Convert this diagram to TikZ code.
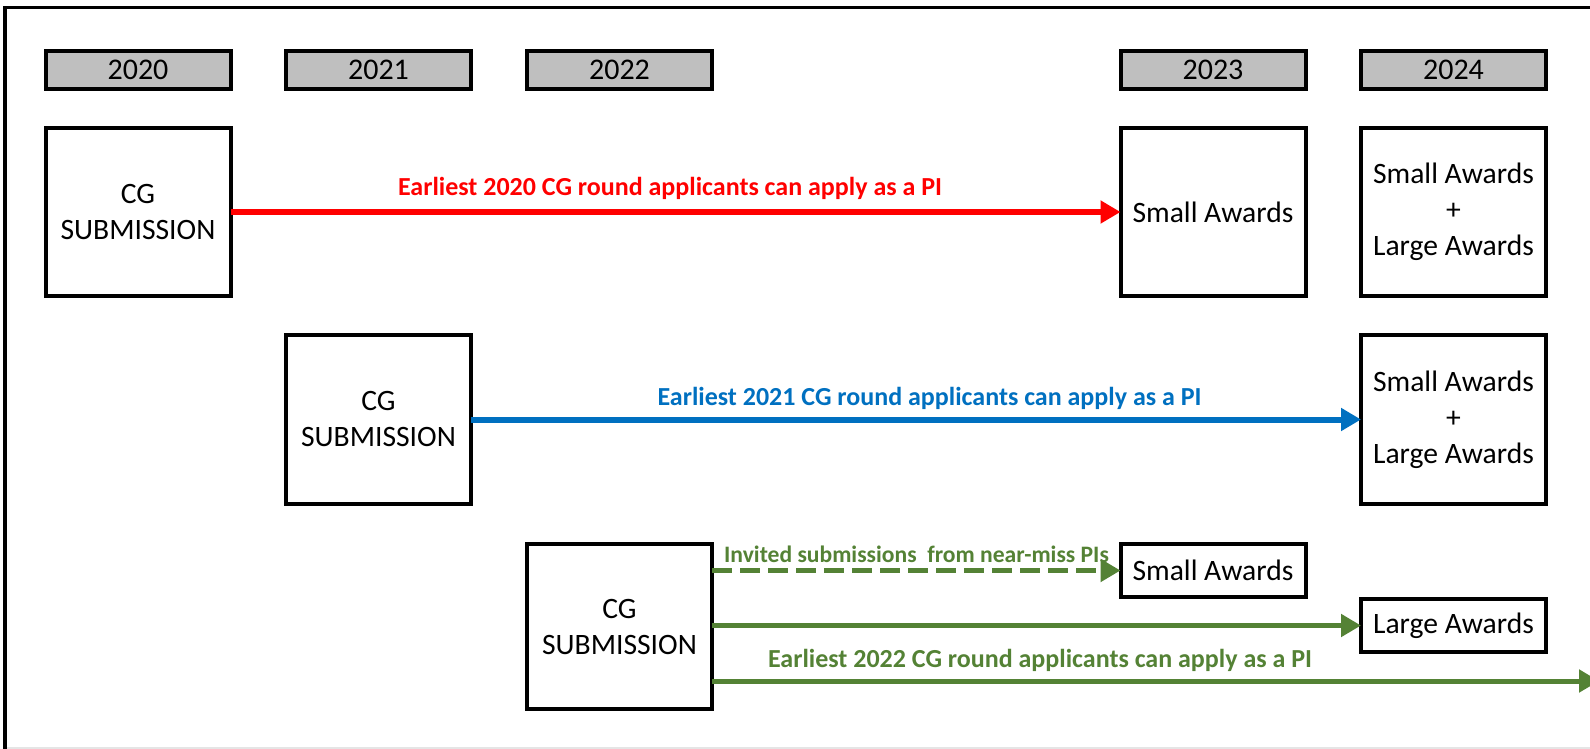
\documentclass[tikz,border=0pt]{standalone}
\usepackage{fontspec}
\setmainfont{Carlito}
\usetikzlibrary{arrows.meta}
\definecolor{cred}{HTML}{FF0000}
\definecolor{cblue}{HTML}{0070C0}
\definecolor{cgreen}{HTML}{548235}
\definecolor{ygray}{HTML}{BFBFBF}
\begin{document}
\begin{tikzpicture}[x=0.5pt,y=-0.5pt,
  yearbox/.style={draw, line width=2pt, fill=ygray, minimum width=92.5pt, minimum height=19pt, inner sep=0pt, outer sep=0pt, font=\fontsize{15}{17}\selectfont},
  bigbox/.style={draw, line width=2pt, fill=white, minimum width=92.5pt, inner sep=0pt, outer sep=0pt, align=center, font=\fontsize{14.8}{18}\selectfont},
  flow/.style={line width=3pt, -{Triangle[length=10pt,width=11pt]}},
  gflow/.style={line width=2.5pt, cgreen, -{Triangle[length=10pt,width=11pt]}},
  lbl/.style={font=\bfseries\fontsize{13}{15}\selectfont, inner sep=0pt, anchor=base},
]
\useasboundingbox (0,0) rectangle (1590,749);
\clip (0,0) rectangle (1590,749);
\fill[white] (0,0) rectangle (1590,749);
% frame
\draw[line width=1.75pt] (5,770) -- (5,7.5) -- (1610,7.5);
\draw[gray!20, line width=0.6pt] (7,748) -- (1590,748);

% year boxes
\node[yearbox] (y20) at (138,70) {2020};
\node[yearbox] (y21) at (378.5,70) {2021};
\node[yearbox] (y22) at (619.5,70) {2022};
\node[yearbox] (y23) at (1213,70) {2023};
\node[yearbox] (y24) at (1453.5,70) {2024};

% row 1
\node[bigbox, minimum height=84pt] (cg1) at (138,212) {CG\\SUBMISSION};
\node[bigbox, minimum height=84pt] (sa1) at (1213,212) {Small Awards};
\node[bigbox, minimum height=84pt] (sl1) at (1453.5,212) {Small Awards\\+\\Large Awards};

% row 2
\node[bigbox, minimum height=84.5pt] (cg2) at (378.5,419.5) {CG\\SUBMISSION};
\node[bigbox, minimum height=84.5pt] (sl2) at (1453.5,419.5) {Small Awards\\+\\Large Awards};

% row 3
\node[bigbox, minimum height=82.5pt] (cg3) at (619.5,626.5) {CG\\SUBMISSION};
\node[bigbox, minimum height=26.5pt] (sa3) at (1213,570.5) {Small Awards};
\node[bigbox, minimum height=26.5pt] (la3) at (1453.5,625.5) {Large Awards};
\coordinate (end3) at (1599,681);

% arrows
\draw[flow, cred] (cg1.east) -- (sa1.west);
\draw[flow, cblue] (cg2.east) -- (sl2.west);
\draw[gflow, dash pattern=on 10pt off 4pt] (cg3.east |- sa3.west) -- (sa3.west);
\draw[gflow] (cg3.east |- la3.west) -- (la3.west);
\draw[gflow] (cg3.east |- end3) -- (end3);

% labels
\node[lbl, text=cred] (l1) at (670,195) {Earliest 2020 CG round applicants can apply as a PI};
\node[lbl, text=cblue] (l2) at (929.5,405) {Earliest 2021 CG round applicants can apply as a PI};
\node[lbl, text=cgreen, font=\bfseries\fontsize{11.8}{14}\selectfont] (l3) at (916.5,562) {Invited submissions\ \ from near-miss PIs};
\node[lbl, text=cgreen] (l4) at (1040,667) {Earliest 2022 CG round applicants can apply as a PI};
\end{tikzpicture}
\end{document}
